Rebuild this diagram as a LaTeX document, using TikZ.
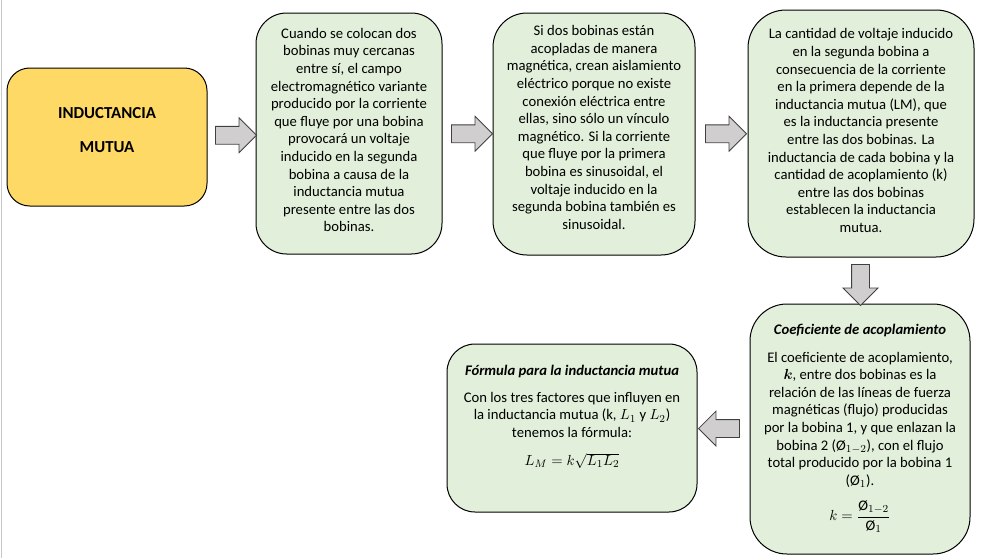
\documentclass[tikz,border=0pt]{standalone}
\usepackage{amsmath}
\usepackage{fontspec}
\setmainfont{Carlito}
\usetikzlibrary{shapes.arrows,positioning,calc}

\definecolor{amarillo}{HTML}{FFD966}
\definecolor{verde}{HTML}{E2EFDA}
\definecolor{gris}{HTML}{D0CECE}
\definecolor{borde}{HTML}{404040}
\definecolor{margen}{HTML}{C8C8C8}

\tikzset{
  caja/.style={draw=black,line width=0.75pt,fill=verde,inner sep=0pt},
  texto/.style={align=center,inner sep=0pt,font=\fontsize{11}{13.2}\selectfont},
  flecha/.style={single arrow,draw=borde,fill=gris,line width=0.6pt,inner sep=0pt,
    text height=12.75pt,text depth=0pt,minimum height=30.75pt,minimum width=25.5pt,
    single arrow head extend=6.4pt}
}

\begin{document}
\begin{tikzpicture}[x=0.75pt,y=-0.75pt]
\useasboundingbox (0,0) rectangle (982,558);
\draw[margen,line width=0.75pt] (1.5,0) -- (1.5,558);

\node[caja,fill=amarillo,minimum width=150pt,minimum height=103.5pt,rounded corners=17pt] (inductancia) at (107,137) {};
\node[caja,minimum width=139.5pt,minimum height=180.75pt,rounded corners=23pt] (cerca) at (349,133.5) {};
\node[caja,minimum width=151.5pt,minimum height=181.5pt,rounded corners=25.5pt] (acople) at (594,134) {};
\node[caja,minimum width=169.5pt,minimum height=185.25pt,rounded corners=28.5pt] (cantidad) at (861,133.5) {};
\node[caja,minimum width=165pt,minimum height=187.5pt,rounded corners=27.75pt] (coef) at (860,429) {};
\node[caja,minimum width=187.5pt,minimum height=126pt,rounded corners=21pt] (formula) at (572,428) {};

\node[texto,font=\fontsize{12.6}{13.2}\selectfont\bfseries] (tinductancia) at ([yshift=5.25pt]inductancia.center) {INDUCTANCIA\\[12.3pt]MUTUA};
\node[texto] (tcerca) at ([yshift=2.6pt]cerca.center) {Cuando se colocan dos\\bobinas muy cercanas\\entre sí, el campo\\electromagnético variante\\producido por la corriente\\que fluye por una bobina\\provocará un voltaje\\inducido en la segunda\\bobina a causa de la\\inductancia mutua\\presente entre las dos\\bobinas.};
\node[texto] (tacople) at ([yshift=4.9pt]acople.center) {Si dos bobinas están\\acopladas de manera\\magnética, crean aislamiento\\eléctrico porque no existe\\conexión eléctrica entre\\ellas, sino sólo un vínculo\\magnético. Si la corriente\\que fluye por la primera\\bobina es sinusoidal, el\\voltaje inducido en la\\segunda bobina también es\\sinusoidal.};
\node[texto] (tcantidad) at ([yshift=2.2pt]cantidad.center) {La cantidad de voltaje inducido\\en la segunda bobina a\\consecuencia de la corriente\\en la primera depende de la\\inductancia mutua (LM), que\\es la inductancia presente\\entre las dos bobinas. La\\inductancia de cada bobina y la\\cantidad de acoplamiento (k)\\entre las dos bobinas\\establecen la inductancia\\mutua.};
\node[texto] (tcoef) at ([yshift=0.5pt]coef.center) {\textbf{\textit{Coeficiente de acoplamiento}}\\[7.8pt]El coeficiente de acoplamiento,\\$\boldsymbol{k}$, entre dos bobinas es la\\relación de las líneas de fuerza\\magnéticas (flujo) producidas\\por la bobina 1, y que enlazan la\\bobina 2 (Ø$_{1-2}$), con el flujo\\total producido por la bobina 1\\(Ø$_1$).\\[9pt]$k=\dfrac{\text{Ø}_{1-2}}{\text{Ø}_1}$};
\node[texto] (tformula) at ([yshift=8.2pt]formula.center) {\textbf{\textit{Fórmula para la inductancia mutua}}\\[6.5pt]Con los tres factores que influyen en\\la inductancia mutua (k, $L_1$ y $L_2$)\\tenemos la fórmula:\\[8pt]$L_M=k\sqrt{L_1L_2}$};

\node[flecha] (f1) at ($(inductancia.east)!0.5!(cerca.west)$) {};
\node[flecha] (f2) at ($(cerca.east)!0.5!(acople.west)$) {};
\node[flecha] (f3) at ($(acople.east)!0.5!(cantidad.west)$) {};
\node[flecha,rotate=-90] (f4) at ($(cantidad.south)!0.5!(coef.north)$) {};
\node[flecha,rotate=180] (f5) at ($(coef.west)!0.5!(formula.east)$) {};
\end{tikzpicture}
\end{document}
